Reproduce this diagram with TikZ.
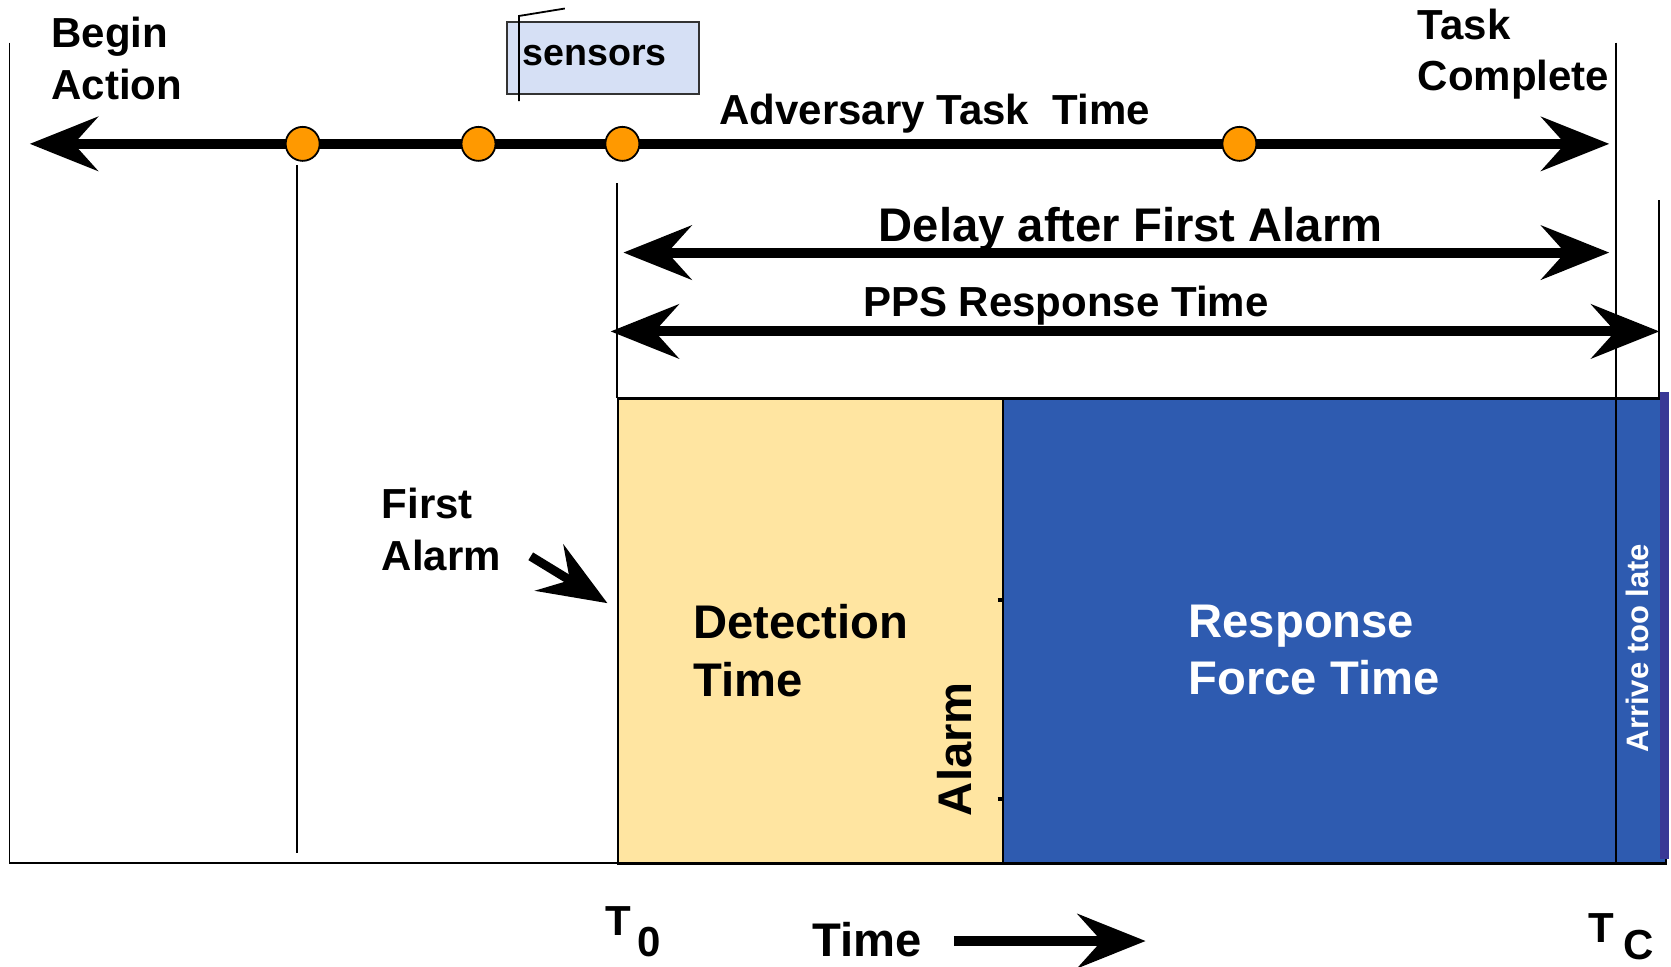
\documentclass[tikz,border=0pt]{standalone}
\usepackage{fontspec}
\setmainfont{Liberation Sans}
\usetikzlibrary{arrows.meta,positioning}
\definecolor{detyellow}{RGB}{255,229,161}
\definecolor{resblue}{RGB}{46,91,176}
\definecolor{edgepurple}{RGB}{58,56,150}
\definecolor{dotorange}{RGB}{255,153,0}
\definecolor{senseblue}{RGB}{214,224,245}

\begin{document}
\begin{tikzpicture}[
  x=0.5329pt,y=-0.5329pt,
  lbl/.style={font=\fontsize{21}{25.6}\selectfont\bfseries,align=left,inner sep=0pt},
  big/.style={font=\fontsize{23.6}{28.8}\selectfont\bfseries,align=left,inner sep=0pt},
  span/.style={line width=5pt,{Stealth[length=34pt,width=27pt,inset=12pt]}-{Stealth[length=34pt,width=27pt,inset=12pt]}},
  onearrow/.style={line width=5pt,-{Stealth[length=34pt,width=27pt,inset=12pt]}},
  guide/.style={line width=0.9pt},
  dot/.style={circle,draw,line width=0.9pt,fill=dotorange,minimum size=17pt,inner sep=0pt}
]
\useasboundingbox[fill=white] (0,0) rectangle (1568,907);

% bars
\node[draw,line width=1pt,fill=detyellow,minimum width=361*0.5329pt,minimum height=437*0.5329pt,
      anchor=north west,inner sep=0pt] (detbar) at (579,373) {};
\node[draw,line width=1pt,fill=resblue,minimum width=622*0.5329pt,minimum height=437*0.5329pt,
      anchor=north west,inner sep=0pt] (resbar) at (940,373) {};
\fill[edgepurple] (1558,368) rectangle (1566,806);

% guide lines
\coordinate (ba) at (9,40);   \coordinate (ba0) at (9,810);
\coordinate (s1) at (279,155); \coordinate (s10) at (279,800);
\coordinate (t0) at (579,172); \coordinate (t00) at (579,373);
\coordinate (tc) at (1516,40); \coordinate (tc0) at (1516,810);
\coordinate (late) at (1557,188); \coordinate (late0) at (1557,373);
\coordinate (axend) at (1562,810);
\draw[guide] (ba) -- (ba0) -- (axend);
\draw[guide] (s1) -- (s10);
\draw[guide] (t0) -- (t00) -- (late0) -- (late);
\draw[guide] (tc) -- (tc0);
\draw[line width=2pt] (936,563) -- (940,563) (936,750) -- (940,750);

% sensors callout
\node[draw=black!80,line width=1pt,fill=senseblue,minimum width=180*0.5329pt,minimum height=67*0.5329pt,
      anchor=north west,inner sep=0pt] (senbox) at (475,20) {};
\node[font=\fontsize{18.8}{22}\selectfont\bfseries,anchor=base west,inner sep=0pt] (sensors) at (490,61) {sensors};
\draw[guide] (487,95) -- (487,15) -- (530,8);

% adversary timeline
\coordinate (advL) at (28,135);
\coordinate (advR) at (1510,135);
\draw[span] (advL) -- (advR);
\foreach \xd/\nm in {284/d1,449/d2,584/d3,1163/d4}
  \node[dot] (\nm) at (\xd,135) {};

\node[lbl,anchor=north west] (begin) at (48,16) {Begin\\Action};
\node[lbl,anchor=north west] (taskc) at (1330,8) {Task\\Complete};
\node[lbl,anchor=base] (advtime) at (877,117) {Adversary Task\ \ Time};

% delay and response spans
\coordinate (delL) at (585,237);
\coordinate (delR) at (1510,237);
\draw[span] (delL) -- (delR);
\node[big,anchor=base] (delay) at (1061,227) {Delay after First Alarm};
\coordinate (ppsL) at (573,311);
\coordinate (ppsR) at (1557,311);
\draw[span] (ppsL) -- (ppsR);
\node[lbl,anchor=base] (pps) at (1000,297) {PPS Response Time};

% bar labels
\node[big,anchor=north west] (dettime) at (650,567) {Detection\\Time};
\node[big,anchor=north west,text=white] (restime) at (1115,567) {Response\\Force Time};
\node[big,rotate=90,anchor=base] (alarm) at (912,703) {Alarm};
\node[font=\fontsize{15.5}{18}\selectfont\bfseries,text=white,rotate=90,anchor=base,inner sep=0pt]
  (toolate) at (1547,608) {Arrive too late};

% first alarm
\node[lbl,anchor=north west] (firsta) at (358,458) {First\\Alarm};
\coordinate (faS) at (498,522);
\coordinate (faE) at (570,566);
\draw[onearrow,line width=4.5pt] (faS) -- (faE);

% time axis labels
\node[lbl,anchor=base west] (tzero) at (568,878) {T};
\node[lbl,anchor=base west] (tzsub) at (598,898) {0};
\node[lbl,anchor=base west] (tcee) at (1490,884) {T};
\node[lbl,anchor=base west] (tcsub) at (1523,900) {C};
\node[big,anchor=base] (timelbl) at (814,898) {Time};
\coordinate (tmS) at (895,883);
\coordinate (tmE) at (1075,883);
\draw[onearrow] (tmS) -- (tmE);
\end{tikzpicture}
\end{document}
